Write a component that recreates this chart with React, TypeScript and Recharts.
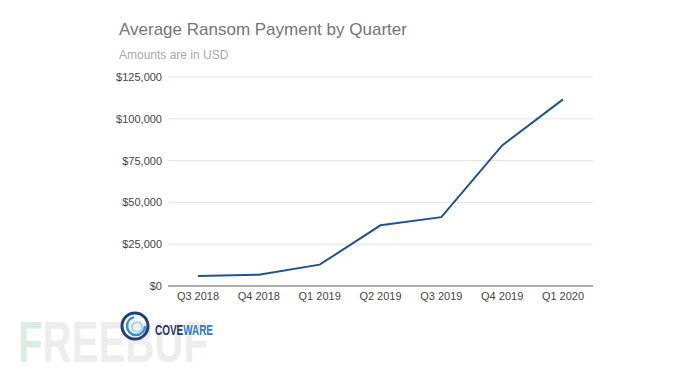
import React from 'react';
import { LineChart, Line, XAxis, YAxis, CartesianGrid } from 'recharts';

const quarters = ['Q3 2018', 'Q4 2018', 'Q1 2019', 'Q2 2019', 'Q3 2019', 'Q4 2019', 'Q1 2020'];
const avgPayment = [5973, 6733, 12762, 36295, 41198, 84116, 111605];
const yTicks = [0, 25000, 50000, 75000, 100000, 125000];

const data = quarters.map((q, i) => ({ quarter: q, payment: avgPayment[i] }));

const font = '"Liberation Sans", Arial, sans-serif';

const fmtUsd = (v: number) => '$' + v.toLocaleString('en-US');

function Watermark() {
  return (
    <svg width={290} height={52} style={{ position: 'absolute', left: 16, top: 318 }}>
      <text x={2} y={44} fontFamily={font} fontWeight="bold" fontSize={57} textLength={190} lengthAdjust="spacingAndGlyphs">
        <tspan fill="#dcebe3">F</tspan>
        <tspan fill="#ededed">REEBUF</tspan>
      </text>
    </svg>
  );
}

function Logo() {
  return (
    <svg width={140} height={34} style={{ position: 'absolute', left: 118, top: 310 }}>
      <circle cx={17} cy={16} r={13} fill="none" stroke="#1d3f7a" strokeWidth={3} />
      <circle cx={18} cy={16} r={9} fill="none" stroke="#3a8fd0" strokeWidth={2.5} strokeDasharray="40 20" />
      <circle cx={19} cy={17} r={5} fill="none" stroke="#9cc8ea" strokeWidth={1.5} />
      <text x={37} y={25} fontFamily={font} fontWeight="bold" fontSize={14} textLength={58} lengthAdjust="spacingAndGlyphs">
        <tspan fill="#1d3466">COVE</tspan>
        <tspan fill="#2d7cc4">WARE</tspan>
      </text>
    </svg>
  );
}

export default function App() {
  return (
    <div style={{ position: 'absolute', left: 0, top: 0, width: 690, height: 371, background: '#fff', fontFamily: font, overflow: 'hidden' }}>
      <div style={{ position: 'absolute', left: 119, top: 20, fontSize: 17, color: '#757575', whiteSpace: 'nowrap' }}>
        Average Ransom Payment by Quarter
      </div>
      <div style={{ position: 'absolute', left: 119, top: 48, fontSize: 12, color: '#a8a8a8', whiteSpace: 'nowrap' }}>
        Amounts are in USD
      </div>
      <Watermark />
      <div style={{ position: 'absolute', left: 0, top: 0 }}>
        <LineChart width={690} height={371} data={data} margin={{ top: 77, right: 97, bottom: 55, left: 108 }}>
          <CartesianGrid vertical={false} stroke="#e3e3e3" />
          <XAxis
            dataKey="quarter"
            height={30}
            padding={{ left: 30, right: 30 }}
            tickLine={false}
            axisLine={{ stroke: '#666' }}
            tickMargin={0}
            tick={{ fill: '#444', fontSize: 11, fontFamily: font }}
            interval={0}
          />
          <YAxis
            width={60}
            domain={[0, 125000]}
            ticks={yTicks}
            tickFormatter={fmtUsd}
            axisLine={false}
            tickLine={false}
            tickMargin={0}
            tick={{ fill: '#444', fontSize: 11, fontFamily: font }}
          />
          <Line
            type="linear"
            dataKey="payment"
            stroke="#23508f"
            strokeWidth={2}
            dot={false}
            isAnimationActive={false}
          />
        </LineChart>
      </div>
      <Logo />
    </div>
  );
}
